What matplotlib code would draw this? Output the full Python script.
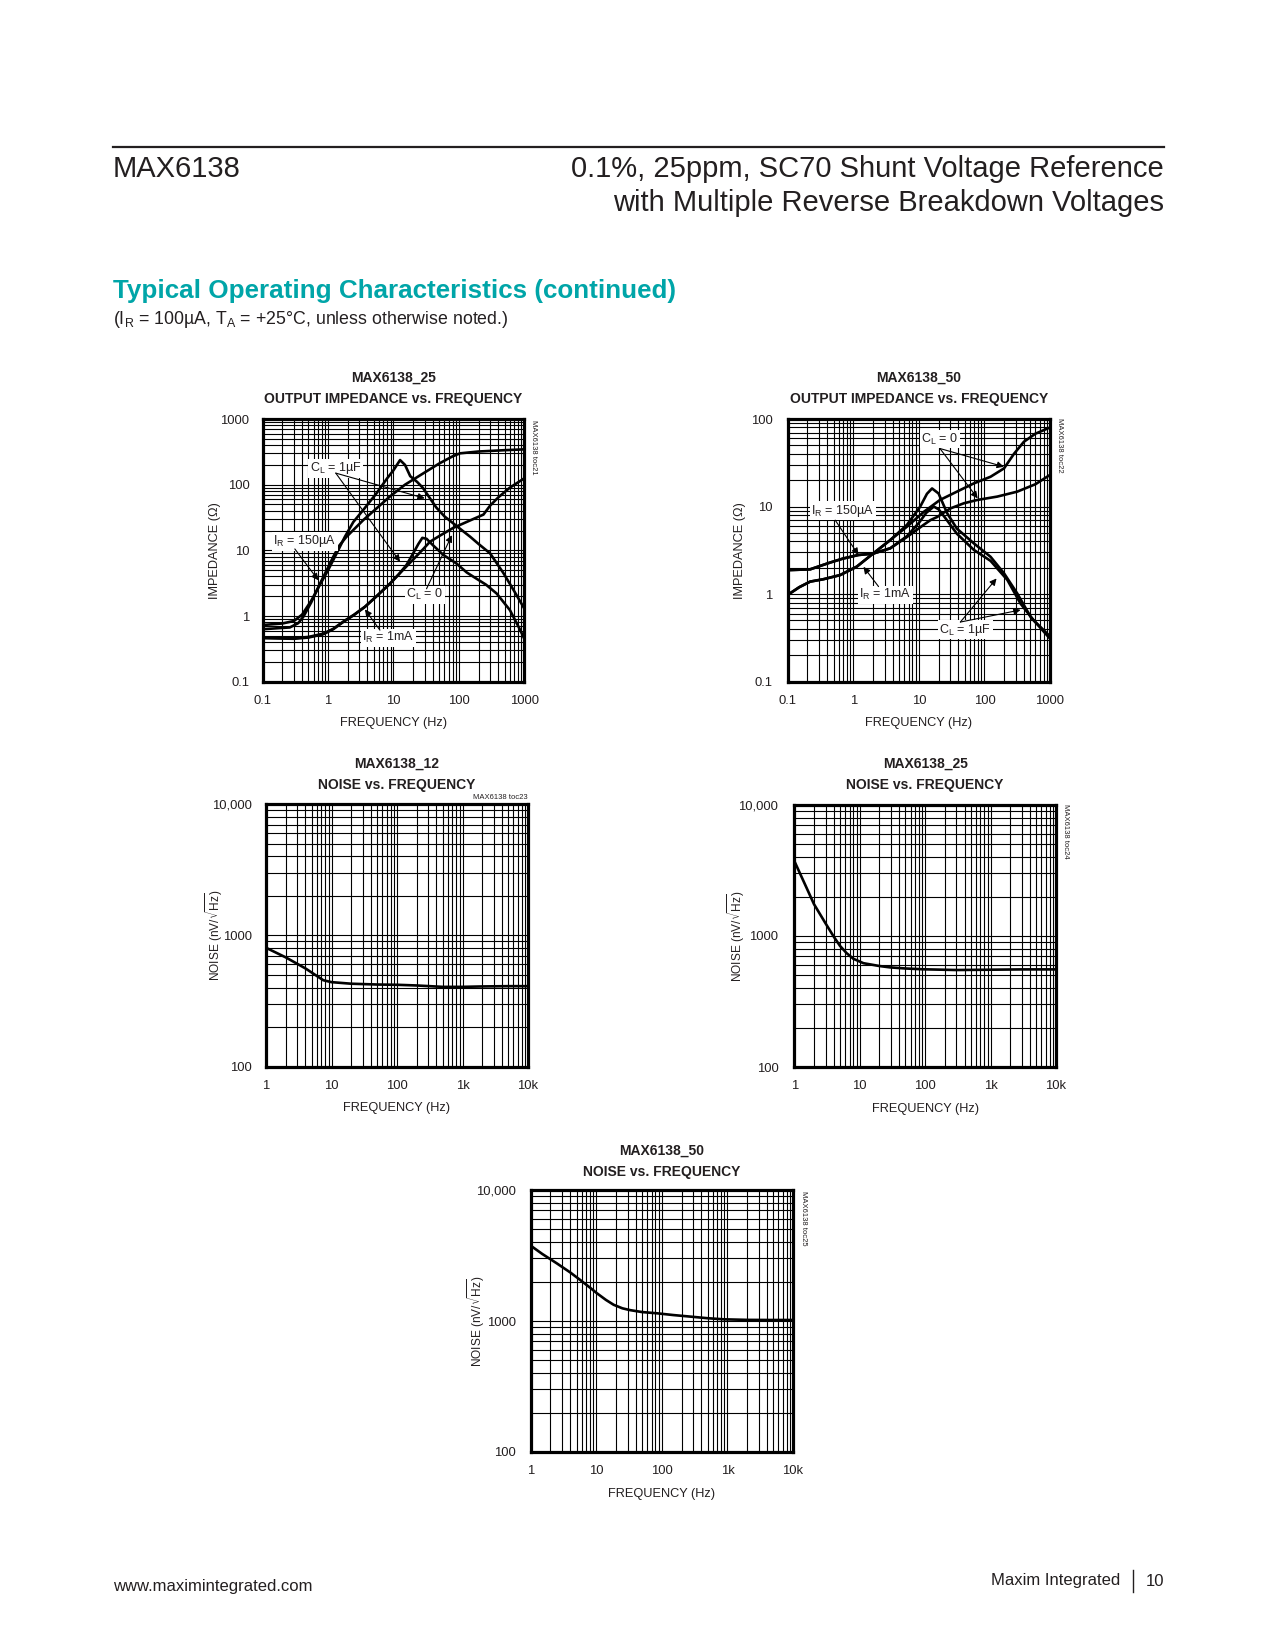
import matplotlib
matplotlib.use("Agg")
import matplotlib.pyplot as plt
from matplotlib.lines import Line2D
from matplotlib.ticker import LogLocator, NullFormatter, FixedLocator

# ---------------- data ----------------
# MAX6138_25 output impedance vs frequency
Z25_F_150U_1U = [0.1, 0.2, 0.3, 0.4, 0.55, 0.75, 1.0, 1.35, 1.8, 2.43, 3.5, 5.5, 8.0, 10.0, 12.6, 15.0, 18.0, 23.0, 28.0, 35.0, 45.0, 60.0, 100.0, 150.0, 200.0, 300.0, 480.0, 700.0, 1000.0]
Z25_Z_150U_1U = [0.73, 0.77, 0.84, 1.05, 1.7, 3.0, 5.0, 9.0, 16.0, 27.0, 42.0, 74.0, 125.0, 166.0, 237.0, 200.0, 135.0, 110.0, 90.0, 65.0, 45.0, 33.0, 22.0, 16.0, 12.5, 9.0, 4.5, 2.4, 1.3]
Z25_F_150U_0 = [0.1, 0.26, 0.35, 0.42, 0.55, 0.75, 1.0, 1.2, 1.5, 1.9, 2.5, 3.46, 5.0, 8.8, 15.0, 28.6, 50.0, 80.0, 104.0, 200.0, 500.0, 1000.0]
Z25_Z_150U_0 = [0.63, 0.67, 0.78, 0.98, 1.6, 3.1, 5.5, 8.0, 12.0, 16.0, 21.0, 29.0, 40.0, 66.0, 100.0, 149.0, 210.0, 270.0, 300.0, 320.0, 335.0, 345.0]
Z25_F_1M_1U = [0.1, 0.3, 0.5, 0.85, 1.2, 1.7, 2.5, 3.67, 5.5, 8.8, 12.0, 15.8, 20.0, 24.0, 27.6, 32.0, 40.0, 58.0, 92.0, 132.0, 186.0, 260.0, 378.0, 603.0, 860.0, 1000.0]
Z25_Z_1M_1U = [0.47, 0.46, 0.48, 0.54, 0.64, 0.82, 1.05, 1.39, 2.0, 3.1, 4.3, 6.0, 9.0, 12.5, 15.5, 15.0, 12.0, 8.5, 6.3, 4.6, 3.7, 3.0, 2.2, 1.23, 0.62, 0.45]
Z25_F_1M_0 = [0.1, 0.3, 0.5, 0.85, 1.2, 1.7, 2.5, 3.67, 5.5, 8.8, 12.0, 15.8, 22.0, 28.6, 36.0, 50.0, 82.0, 120.0, 166.0, 237.0, 300.0, 400.0, 600.0, 1000.0]
Z25_Z_1M_0 = [0.46, 0.45, 0.47, 0.53, 0.63, 0.81, 1.04, 1.38, 2.0, 3.1, 4.3, 5.7, 8.0, 10.5, 13.5, 16.5, 22.0, 26.0, 30.0, 35.0, 48.0, 64.0, 90.0, 125.0]

# MAX6138_50 output impedance vs frequency
Z50_F_150U_0 = [0.1, 0.22, 0.44, 0.7, 1.2, 2.0, 3.67, 6.6, 11.9, 15.0, 19.0, 30.0, 48.5, 78.0, 157.0, 316.0, 600.0, 1000.0]
Z50_Z_150U_0 = [1.88, 1.92, 2.29, 2.55, 2.8, 2.9, 3.34, 4.5, 6.2, 7.0, 7.6, 9.5, 10.9, 11.9, 13.0, 14.8, 18.0, 23.0]
Z50_F_150U_1U = [0.1, 0.22, 0.44, 0.7, 1.2, 2.0, 3.67, 6.6, 10.0, 13.0, 16.9, 20.0, 25.0, 38.0, 69.0, 124.0, 224.0, 355.0, 566.0, 1000.0]
Z50_Z_150U_1U = [1.88, 1.92, 2.29, 2.55, 2.8, 2.9, 3.34, 4.6, 6.5, 8.5, 10.0, 9.3, 7.5, 4.9, 3.2, 2.4, 1.45, 0.78, 0.5, 0.33]
Z50_F_1M_0 = [0.1, 0.15, 0.22, 0.35, 0.63, 1.13, 2.0, 3.67, 6.6, 11.9, 21.0, 38.0, 69.0, 124.0, 199.0, 282.0, 400.0, 600.0, 1000.0]
Z50_Z_1M_0 = [0.98, 1.2, 1.39, 1.48, 1.65, 2.06, 2.9, 4.15, 5.9, 8.7, 11.9, 14.8, 18.4, 21.9, 27.3, 40.0, 55.0, 68.0, 80.0]
Z50_F_1M_1U = [0.1, 0.15, 0.22, 0.35, 0.63, 1.13, 2.0, 3.67, 6.6, 10.5, 13.3, 15.9, 20.0, 27.0, 38.0, 69.0, 124.0, 199.0, 316.0, 507.0, 1000.0]
Z50_Z_1M_1U = [0.98, 1.2, 1.39, 1.48, 1.65, 2.06, 2.9, 4.15, 6.2, 10.0, 14.0, 16.1, 14.1, 8.4, 5.6, 3.8, 2.67, 1.73, 1.02, 0.55, 0.31]

# Noise vs frequency
N12_F = [1, 2, 4, 7.5, 10, 20, 50, 100, 200, 500, 1000, 2000, 5000, 10000]
N12_N = [805, 680, 560, 455, 440, 428, 422, 420, 415, 405, 405, 408, 410, 410]
N25_F = [1, 1.5, 2, 3, 4, 5, 6.3, 8, 11.4, 20, 29, 50, 94, 300, 1000, 3000, 10000]
N25_N = [3740, 2400, 1750, 1250, 990, 840, 740, 670, 620, 590, 576, 565, 557, 550, 553, 556, 556]
N50_F = [1, 1.5, 2.5, 4, 5.7, 8, 10.2, 14, 18.4, 25, 33, 50, 84.5, 150, 273, 500, 883, 2000, 4570, 10000]
N50_N = [3760, 3250, 2755, 2350, 2055, 1800, 1630, 1450, 1330, 1250, 1210, 1170, 1145, 1110, 1080, 1050, 1030, 1020, 1018, 1018]

Z_XTICKS = [0.1, 1, 10, 100, 1000]
Z_XLABELS = ["0.1", "1", "10", "100", "1000"]
Z25_YTICKS = [0.1, 1, 10, 100, 1000]
Z25_YLABELS = ["0.1", "1", "10", "100", "1000"]
Z50_YTICKS = [0.1, 1, 10, 100]
Z50_YLABELS = ["0.1", "1", "10", "100"]
N_XTICKS = [1, 10, 100, 1000, 10000]
N_XLABELS = ["1", "10", "100", "1k", "10k"]
N_YTICKS = [100, 1000, 10000]
N_YLABELS = ["100", "1000", "10,000"]

# ---------------- figure ----------------
W, H = 1275, 1650
NARROW = ['Liberation Sans Narrow', 'Liberation Sans', 'DejaVu Sans']
REG = ['Liberation Sans', 'DejaVu Sans']
plt.rcParams['font.family'] = NARROW
plt.rcParams['mathtext.default'] = 'regular'
TXT = '#231f20'
TICK_FS = 9.4
LAB_FS = 9.2
NOTE_FS = 9.0
TITLE_FS = 10.0

fig = plt.figure(figsize=(W / 100, H / 100), dpi=100)
fig.patch.set_facecolor('white')


def fx(px):
    return px / W


def fy(py):
    return 1 - py / H


def make_axes(l, t, r, b, xlim, ylim, xt, xl, yt, yl, ytick_pad, xpad=9.5, lpad=7.5):
    ax = fig.add_axes([l / W, 1 - b / H, (r - l) / W, (b - t) / H])
    ax.set_xscale('log')
    ax.set_yscale('log')
    ax.set_xlim(*xlim)
    ax.set_ylim(*ylim)
    ax.xaxis.set_major_locator(FixedLocator(xt))
    ax.yaxis.set_major_locator(FixedLocator(yt))
    ax.set_xticklabels(xl)
    ax.set_yticklabels(yl)
    ax.xaxis.set_minor_locator(LogLocator(base=10, subs=range(2, 10), numticks=50))
    ax.yaxis.set_minor_locator(LogLocator(base=10, subs=range(2, 10), numticks=50))
    ax.xaxis.set_minor_formatter(NullFormatter())
    ax.yaxis.set_minor_formatter(NullFormatter())
    ax.tick_params(which='both', length=0)
    ax.tick_params(axis='x', pad=xpad, labelsize=TICK_FS, colors=TXT)
    ax.tick_params(axis='y', pad=ytick_pad, labelsize=TICK_FS, colors=TXT)
    ax.grid(True, which='both', color='black', linewidth=0.8)
    for s in ax.spines.values():
        s.set_linewidth(2.3)
        s.set_zorder(5)
    ax.set_xlabel('FREQUENCY (Hz)', fontsize=LAB_FS, color=TXT, labelpad=lpad)
    return ax


def titles(l, r, t1y, l1, l2):
    cx = (l + r) / 2
    fig.text(fx(cx), fy(t1y), l1, ha='center', va='center', fontsize=TITLE_FS,
             fontweight='bold', color=TXT)
    fig.text(fx(cx), fy(t1y + 21), l2, ha='center', va='center', fontsize=TITLE_FS,
             fontweight='bold', color=TXT)


BOX = dict(boxstyle='square,pad=0.12', fc='white', ec='none')
ARROW = dict(arrowstyle='-|>', color='black', lw=0.8, mutation_scale=10,
             shrinkA=0, shrinkB=0)


def note(ax, text, pos, start, targets):
    ax.text(pos[0], pos[1], text, ha='center', va='center', fontsize=NOTE_FS,
            color=TXT, bbox=BOX, zorder=6)
    for tg in targets:
        ax.annotate('', xy=tg, xytext=start, arrowprops=ARROW, zorder=7)


def ylabel_at(text, px, cy, fs=LAB_FS):
    fig.text(fx(px), fy(cy), text, rotation=90, ha='center', va='center',
             fontsize=fs, color=TXT)


def toc(px, py, text, rot):
    fig.text(fx(px), fy(py), text, rotation=rot, ha='center', va='center',
             fontsize=5.5, color=TXT)


LW = 1.9

# ---- chart 1 ----
L1, T1, R1, B1 = 262.7, 419, 524.3, 681.7
ax1 = make_axes(L1, T1, R1, B1, (0.1, 1000), (0.1, 1000), Z_XTICKS, Z_XLABELS,
                Z25_YTICKS, Z25_YLABELS, 9.5)
for f, z in [(Z25_F_150U_1U, Z25_Z_150U_1U), (Z25_F_150U_0, Z25_Z_150U_0),
             (Z25_F_1M_1U, Z25_Z_1M_1U), (Z25_F_1M_0, Z25_Z_1M_0)]:
    ax1.plot(f, z, color='black', lw=LW, zorder=4)
titles(L1, R1, 377.7, 'MAX6138_25', 'OUTPUT IMPEDANCE vs. FREQUENCY')
ylabel_at('IMPEDANCE (Ω)', 215, (T1 + B1) / 2)
note(ax1, r'C$_\mathregular{L}$ = 1µF', (1.31, 177), (1.31, 150), [(30, 62), (12.6, 6.7)])
note(ax1, r'I$_\mathregular{R}$ = 150µA', (0.44, 13.8), (0.31, 10.5), [(0.71, 3.5)])
note(ax1, r'C$_\mathregular{L}$ = 0', (30, 2.1), (32, 2.6), [(78, 17)])
note(ax1, r'I$_\mathregular{R}$ = 1mA', (8.3, 0.47), (6.2, 0.61), [(3.66, 1.26)])
toc(534, 447, 'MAX6138 toc21', -90)

# ---- chart 2 ----
L2, T2, R2, B2 = 787.7, 419, 1050, 681.7
ax2 = make_axes(L2, T2, R2, B2, (0.1, 1000), (0.1, 100), Z_XTICKS, Z_XLABELS,
                Z50_YTICKS, Z50_YLABELS, 11)
for f, z in [(Z50_F_150U_0, Z50_Z_150U_0), (Z50_F_150U_1U, Z50_Z_150U_1U),
             (Z50_F_1M_0, Z50_Z_1M_0), (Z50_F_1M_1U, Z50_Z_1M_1U)]:
    ax2.plot(f, z, color='black', lw=LW, zorder=4)
titles(L2, R2, 377.7, 'MAX6138_50', 'OUTPUT IMPEDANCE vs. FREQUENCY')
ylabel_at('IMPEDANCE (Ω)', 740, (T2 + B2) / 2)
note(ax2, r'C$_\mathregular{L}$ = 0', (21, 58.5), (21, 46), [(198, 28.5), (79, 12.4)])
note(ax2, r'I$_\mathregular{R}$ = 150µA', (0.69, 9.0), (0.53, 7.0), [(1.2, 2.8)])
note(ax2, r'I$_\mathregular{R}$ = 1mA', (3.07, 0.98), (2.43, 1.22), [(1.43, 2.05)])
note(ax2, r'C$_\mathregular{L}$ = 1µF', (51, 0.39), (43, 0.48), [(153, 1.51), (356, 0.66)])
toc(1060, 445, 'MAX6138 toc22', -90)

NOISE_LAB = r'NOISE (nV/$\sqrt{\mathregular{Hz}}$)'

# ---- chart 3 ----
L3, T3, R3, B3 = 266, 804.3, 528, 1066.5
ax3 = make_axes(L3, T3, R3, B3, (1, 10000), (100, 10000), N_XTICKS, N_XLABELS,
                N_YTICKS, N_YLABELS, 10, xpad=9.5, lpad=7.5)
ax3.plot(N12_F, N12_N, color='black', lw=LW, zorder=4)
titles(L3, R3, 764, 'MAX6138_12', 'NOISE vs. FREQUENCY')
ylabel_at(NOISE_LAB, 214, (T3 + B3) / 2, 8.6)
fig.text(fx(R3), fy(797.5), 'MAX6138 toc23', ha='right', va='center', fontsize=5.5, color=TXT)

# ---- chart 4 ----
L4, T4, R4, B4 = 794.3, 805, 1056, 1067
ax4 = make_axes(L4, T4, R4, B4, (1, 10000), (100, 10000), N_XTICKS, N_XLABELS,
                N_YTICKS, N_YLABELS, 11.5, xpad=9.5, lpad=7.5)
ax4.plot(N25_F, N25_N, color='black', lw=LW, zorder=4)
titles(L4, R4, 764, 'MAX6138_25', 'NOISE vs. FREQUENCY')
ylabel_at(NOISE_LAB, 736, (T4 + B4) / 2, 8.6)
toc(1066, 831, 'MAX6138 toc24', -90)

# ---- chart 5 ----
L5, T5, R5, B5 = 530.7, 1190, 793, 1452
ax5 = make_axes(L5, T5, R5, B5, (1, 10000), (100, 10000), N_XTICKS, N_XLABELS,
                N_YTICKS, N_YLABELS, 10.5, xpad=9.5, lpad=7.5)
ax5.plot(N50_F, N50_N, color='black', lw=LW, zorder=4)
titles(L5, R5, 1151, 'MAX6138_50', 'NOISE vs. FREQUENCY')
ylabel_at(NOISE_LAB, 476, (T5 + B5) / 2, 8.6)
toc(803, 1218, 'MAX6138 toc25', -90)

# ---------------- page text ----------------
fig.add_artist(Line2D([fx(113), fx(1164)], [fy(146.5), fy(146.5)], lw=1.6, color=TXT))
fig.text(fx(113), fy(168.6), 'MAX6138', ha='left', va='center', fontsize=21,
         family=REG, color=TXT)
fig.text(fx(1164), fy(168.6), '0.1%, 25ppm, SC70 Shunt Voltage Reference', ha='right',
         va='center', fontsize=21, family=REG, color=TXT)
fig.text(fx(1164), fy(203.4), 'with Multiple Reverse Breakdown Voltages', ha='right',
         va='center', fontsize=21, family=REG, color=TXT)
fig.text(fx(113), fy(291), 'Typical Operating Characteristics (continued)', ha='left',
         va='center', fontsize=18.7, fontweight='bold', family=REG, color='#00a5a8')
fig.text(fx(113), fy(320), r'(I$_\mathregular{R}$ = 100µA, T$_\mathregular{A}$ = +25°C, unless otherwise noted.)',
         ha='left', va='center', fontsize=12.8, family=REG, color=TXT)
fig.text(fx(113), fy(1586), 'www.maximintegrated.com', ha='left', va='center',
         fontsize=12, family=REG, color=TXT)
fig.text(fx(1120), fy(1581), 'Maxim Integrated', ha='right', va='center',
         fontsize=12, family=REG, color=TXT)
fig.add_artist(Line2D([fx(1133), fx(1133)], [fy(1570), fy(1592)], lw=1.0, color=TXT))
fig.text(fx(1164), fy(1581), '10', ha='right', va='center',
         fontsize=12, family=REG, color=TXT)

fig.savefig('out.png', dpi=100, facecolor='white')
